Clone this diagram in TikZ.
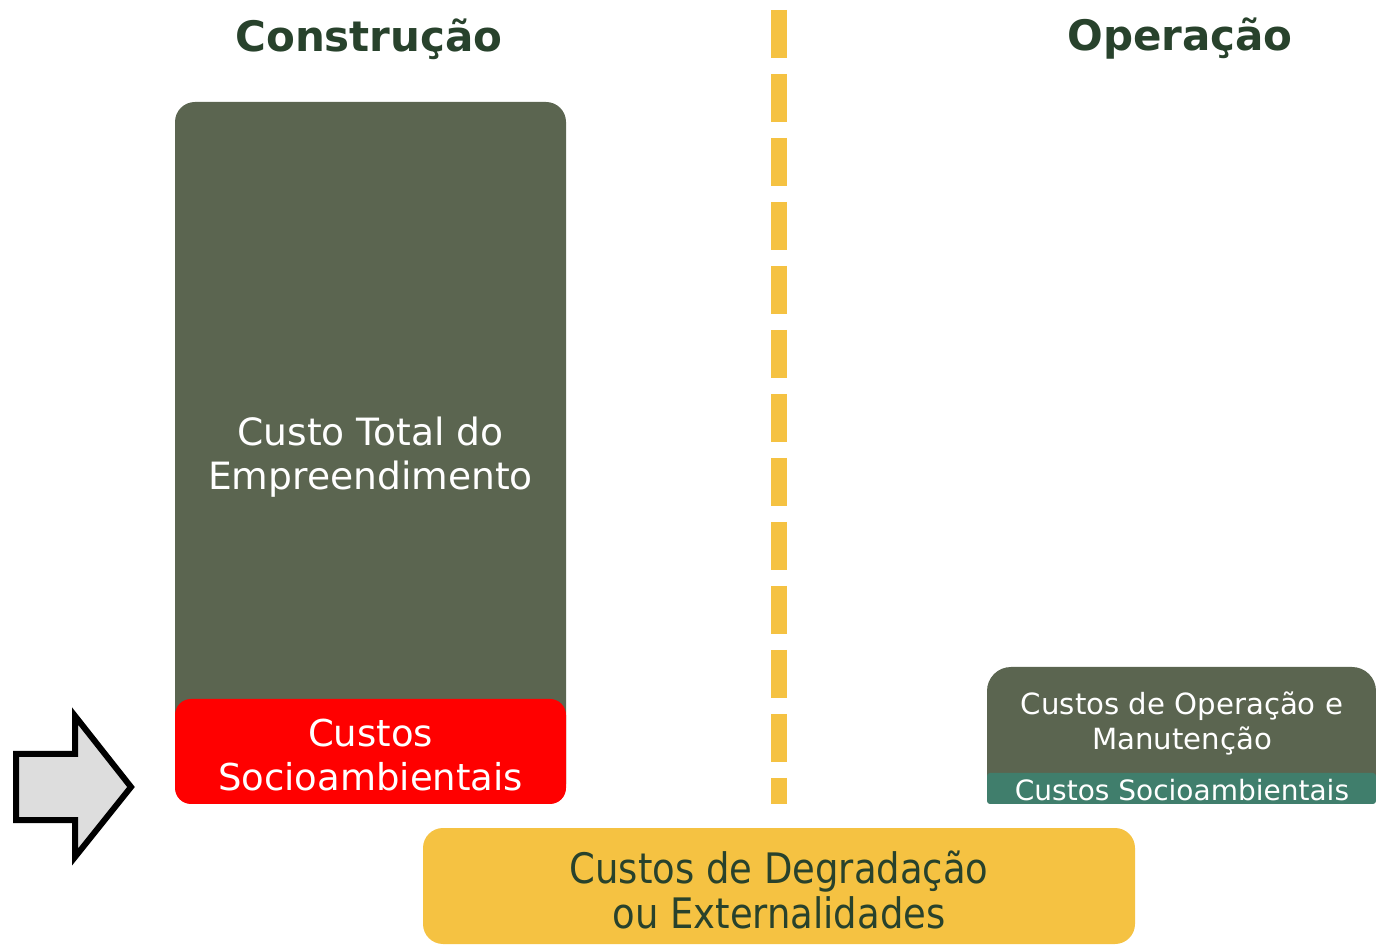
\documentclass[tikz,border=0pt]{standalone}
\usepackage{fontspec}
\setmainfont{DejaVu Sans}
\usetikzlibrary{positioning}

\definecolor{verdeCx}{RGB}{91,101,80}
\definecolor{verdeAg}{RGB}{64,126,108}
\definecolor{amarelo}{RGB}{245,194,66}
\definecolor{titulo}{RGB}{40,66,44}
\definecolor{seta}{RGB}{221,221,221}

\tikzset{
  caixa/.style={rounded corners=10pt, inner sep=0pt, text=white, align=center},
  rotulo/.style={inner sep=0pt, align=center},
  cabec/.style={inner sep=0pt, text=titulo, font=\bfseries\fontsize{21}{25}\selectfont},
}

\begin{document}
\begin{tikzpicture}[x=0.5pt, y=-0.5pt]
\useasboundingbox (0,0) rectangle (1376,945);

\node[cabec] (con) at (369,39) {Construção};
\node[cabec] (ope) at (1180,39) {Operação};

% divisoria
\coordinate (dtop) at (779,10);
\coordinate (dbot) at (779,804);
\draw[amarelo, line width=8pt, dash pattern=on 24pt off 8pt] (dtop) -- (dbot);

\node[caixa, fill=verdeCx, minimum width=195.5pt, minimum height=351pt] (total) at (370.5,453) {};
\node[rotulo, text=white, font=\fontsize{18.8}{22}\selectfont] (totaltxt) at (370.5,457) {Custo Total do\\Empreendimento};
\node[caixa, fill=red, rounded corners=8pt, minimum width=195.5pt, minimum height=52.5pt] (socio) at (370.5,751.5) {};
\node[rotulo, text=white, font=\fontsize{18.5}{22}\selectfont] (sociotxt) at (370.5,755) {Custos\\Socioambientais};

\node[caixa, fill=verdeCx, rounded corners=12pt, minimum width=194.5pt, minimum height=68.5pt] (op) at (1181.5,735.5) {};
\node[rotulo, text=white, font=\fontsize{14.6}{17.5}\selectfont] (optxt) at (1182,723) {Custos de Operação e\\Manutenção};
\node[caixa, fill=verdeAg, rounded corners=1.5pt, minimum width=194.5pt, minimum height=15.5pt] (socio2) at (1181.5,788.5) {};
\node[rotulo, text=white, font=\fontsize{14}{15}\selectfont] (socio2txt) at (1182,790) {Custos Socioambientais};

\node[caixa, fill=amarelo, minimum width=356pt, minimum height=58pt] (ext) at (779,886) {};
\node[rotulo, text=titulo, font=\fontsize{21}{22.5}\selectfont] (exttxt) at (779,890)
  {\scalebox{0.88}[1]{Custos de Degradação}\\\scalebox{0.88}[1]{ou Externalidades}};

% seta
\draw[line width=3pt, fill=seta, miter limit=4] (16,754) -- (75,754) -- (75,716) -- (131,787)
  -- (75,857) -- (75,820) -- (16,820) -- cycle;
\end{tikzpicture}
\end{document}
